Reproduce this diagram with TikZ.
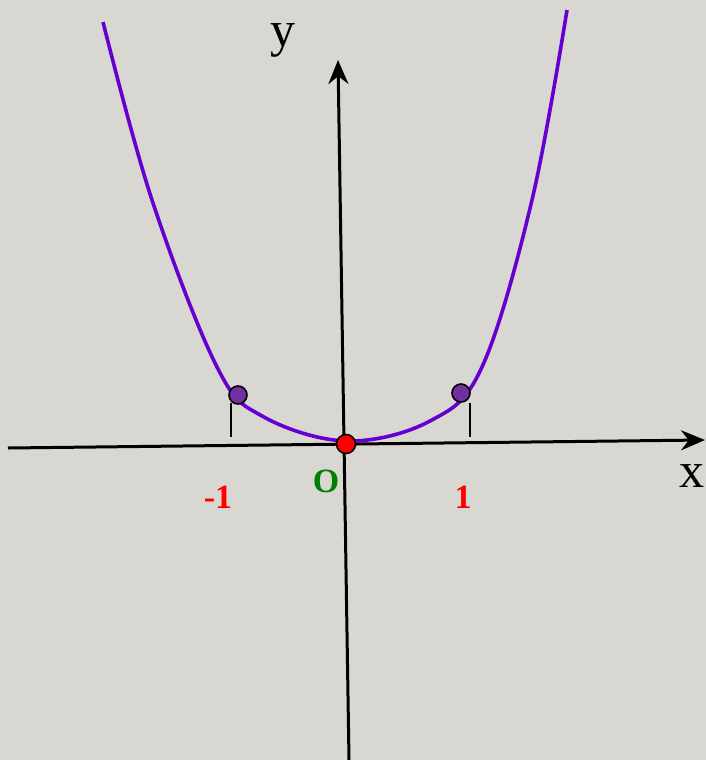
\documentclass[tikz,border=0pt]{standalone}
\usepackage{fontspec}
\setmainfont{Liberation Serif}
\usepackage{tikz}
\usetikzlibrary{arrows.meta, positioning}
\definecolor{mybg}{RGB}{216,215,209}
\definecolor{mycurve}{RGB}{102,0,208}
\definecolor{mypoint}{RGB}{112,48,160}
\definecolor{mygreen}{RGB}{0,128,0}
\tikzset{
  axis/.style={line width=1.5pt, black, -{Stealth[length=12pt, width=10pt]}},
  curve/.style={line width=1.8pt, color=mycurve},
  dot/.style={circle, draw=black, fill=mypoint, line width=0.8pt,
    minimum width=8pt, minimum height=9pt, inner sep=0pt},
  origindot/.style={circle, draw=black, fill=red, line width=0.8pt,
    minimum size=9.5pt, inner sep=0pt},
  tick/.style={line width=1pt, black},
  axislabel/.style={font=\fontsize{25}{25}\selectfont, inner sep=0pt},
  numlabel/.style={font=\fontsize{17}{17}\selectfont\bfseries, text=red, inner sep=0pt}
}

\begin{document}
\begin{tikzpicture}[x=0.5pt, y=-0.5pt]
  \fill[mybg] (0,0) rectangle (706,760);
  \useasboundingbox (0,0) rectangle (706,760);

  \coordinate (xstart) at (8,448);
  \coordinate (xend) at (705,440);
  \coordinate (ystart) at (349,760);
  \coordinate (yend) at (338,60);

  \draw[axis] (xstart) -- (xend);
  \draw[axis] (ystart) -- (yend);

  \draw[curve] plot[smooth, tension=0.6] coordinates {
    (103,22) (152,200) (217,367) (262,416) (346,441)
    (430,421) (482,367) (532,200) (567,10)};

  \coordinate (ltick top) at (231,403);
  \coordinate (ltick bot) at (231,437);
  \coordinate (rtick top) at (470,403);
  \coordinate (rtick bot) at (470,437);
  \draw[tick] (ltick top) -- (ltick bot);
  \draw[tick] (rtick top) -- (rtick bot);

  \node[dot] (pm) at (238,395) {};
  \node[dot] (pp) at (461,393) {};
  \node[origindot] (o) at (346,444) {};

  \node[axislabel] (ylab) at (283,40) {y};
  \node[axislabel] (xlab) at (692,476) {x};
  \node[font=\fontsize{17}{17}\selectfont\bfseries, text=mygreen, inner sep=0pt] (olab) at (326,481) {O};
  \node[numlabel] (mlab) at (218,497) {-1};
  \node[numlabel] (plab) at (463,497) {1};
\end{tikzpicture}
\end{document}
